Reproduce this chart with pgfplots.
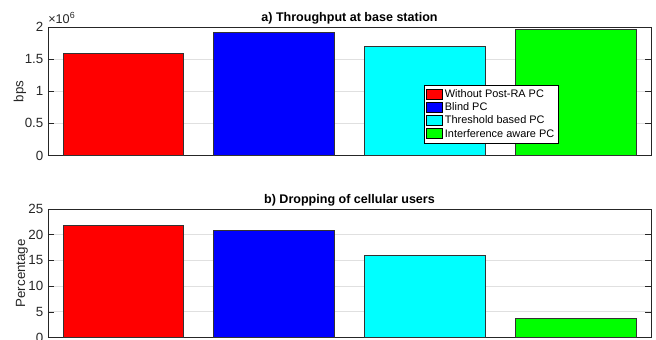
\documentclass[border=0pt]{standalone}
\usepackage{fontspec}
\setmainfont{Liberation Sans}
\usepackage{pgfplots}
\pgfplotsset{compat=1.18}
\definecolor{axgray}{gray}{0.15}
\definecolor{gridgray}{gray}{0.88}
\definecolor{mred}{RGB}{255,0,0}
\definecolor{mblue}{RGB}{0,0,255}
\definecolor{mcyan}{RGB}{0,255,255}
\definecolor{mgreen}{RGB}{0,255,0}
\begin{document}
\begin{tikzpicture}
\pgfplotsset{
  mystyle/.style={
    scale only axis,
    width=452.25pt, height=96.4pt,
    xmin=0.5, xmax=4.5,
    xtick=\empty,
    ymin=0,
    axis line style={axgray, line width=0.5pt},
    tick style={axgray, line width=0.5pt},
    major tick length=4.3pt,
    tick align=inside,
    ytick pos=both,
    ymajorgrids,
    grid style={gridgray, line width=0.6pt},
    /pgf/number format/assume math mode=true,
    tick label style={font=\fontsize{10}{12}\selectfont, text=black!85},
    every axis y label/.style={at={(rel axis cs:0,0.5)}, rotate=90, anchor=center, font=\fontsize{10}{12}\selectfont, text=black!85},
    every axis title/.style={at={(0.5,1)}, anchor=base, yshift=4.2pt, font=\bfseries\fontsize{9.4}{11}\selectfont, text=black},
    legend style={font=\fontsize{8.2}{9.5}\selectfont, draw=black, line width=0.5pt,
      inner sep=1pt, row sep=-1.6pt, cells={anchor=west}},
    legend image code/.code={\draw[#1, draw=black] (0cm,-0.12cm) rectangle (0.42cm,0.15cm);},
  },
  bar/.style={ybar, bar width=0.8, bar shift=0pt, draw=black!80, line width=0.5pt, fill=#1},
}
% top
\begin{axis}[mystyle,
  at={(36pt,-20.25pt)}, anchor=north west,
  ymax=2e6, ytick={0,0.5e6,1e6,1.5e6,2e6},
  scaled y ticks=base 10:-6,
  ytick scale label code/.code={×10\textsuperscript{#1}},
  every y tick scale label/.style={at={(rel axis cs:0,1)}, anchor=south west, inner sep=0pt, yshift=2.2pt, font=\fontsize{9.5}{11}\selectfont, text=black!85},
  ylabel={bps},
  ylabel style={yshift=21pt},
  title={a) Throughput at base station},
  legend style={at={(0.6235,0.545)}, anchor=north west},
]
\addplot[bar=mred] coordinates {(1,1.588e6)};
\addplot[bar=mblue] coordinates {(2,1.920e6)};
\addplot[bar=mcyan] coordinates {(3,1.692e6)};
\addplot[bar=mgreen] coordinates {(4,1.958e6)};
\legend{Without Post-RA PC, Blind PC, Threshold based PC, Interference aware PC}
\end{axis}
% bottom
\begin{axis}[mystyle,
  at={(36pt,-156.75pt)}, anchor=north west,
  ymax=25, ytick={0,5,10,15,20,25},
  ylabel={Percentage},
  ylabel style={yshift=19.5pt},
  title={b) Dropping of cellular users},
]
\addplot[bar=mred] coordinates {(1,21.9)};
\addplot[bar=mblue] coordinates {(2,20.9)};
\addplot[bar=mcyan] coordinates {(3,16.0)};
\addplot[bar=mgreen] coordinates {(4,3.8)};
\end{axis}
\pgfresetboundingbox
\useasboundingbox (0,0) rectangle (492pt,-254.25pt);
\end{tikzpicture}
\end{document}
